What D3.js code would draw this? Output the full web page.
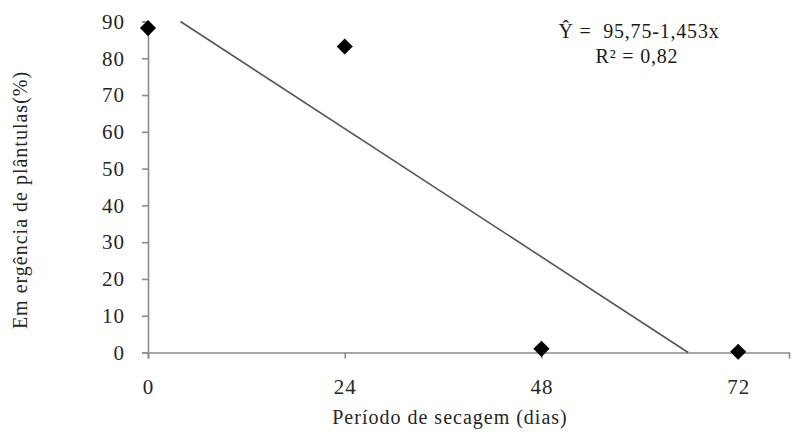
<!DOCTYPE html>
<html><head><meta charset="utf-8">
<script src="https://cdn.jsdelivr.net/npm/d3@7"></script>
<style>body{margin:0;background:#fff}svg{display:block}
svg text{font-family:"Liberation Serif","Times New Roman","DejaVu Serif",serif;}</style>
</head><body>
<script>
const xValues = [0, 24, 48, 72];
const yValues = [88.2, 83.2, 1.0, 0.2];
const xTicks = [0, 24, 48, 72];
const yTicks = [0, 10, 20, 30, 40, 50, 60, 70, 80, 90];
const regIntercept = 95.75;
const regSlope = -1.453;
const eqLine1 = "Ŷ =  95,75-1,453x";
const eqLine2 = "R² = 0,82";
const xTitle = "Período de secagem (dias)";
const yTitle = "Em ergência de plântulas(%)";

const W = 794, H = 432;
const svg = d3.select("body").append("svg").attr("width", W).attr("height", H);
const x = d3.scaleLinear().domain([0, 78.2]).range([148, 789]);
const y = d3.scaleLinear().domain([0, 90]).range([352.5, 21.5]);
const axisColor = "#8c8c8c";
const textColor = "#262626";

// x axis
const gx = svg.append("g").attr("transform", `translate(0,${y(0)})`)
  .call(d3.axisBottom(x).tickValues(xTicks).tickSize(6).tickPadding(21).tickFormat(d3.format("d")));
gx.attr("font-family", null);
gx.select(".domain").attr("stroke", axisColor).attr("stroke-width", 1.6);
gx.selectAll(".tick line").attr("stroke", axisColor).attr("stroke-width", 1.6);
gx.selectAll(".tick text").attr("font-size", 21).attr("fill", textColor)
  .attr("letter-spacing", 1);

// y axis
const gy = svg.append("g").attr("transform", `translate(${x(0)},0)`)
  .call(d3.axisLeft(y).tickValues(yTicks).tickSize(6).tickPadding(17).tickFormat(d3.format("d")));
gy.attr("font-family", null);
gy.select(".domain").attr("stroke", axisColor).attr("stroke-width", 1.6);
gy.selectAll(".tick line").attr("stroke", axisColor).attr("stroke-width", 1.6);
gy.selectAll(".tick text").attr("font-size", 21).attr("fill", textColor)
  .attr("letter-spacing", 1);

// regression line, clipped to y domain [0,90]
const xStart = (90 - regIntercept) / regSlope;
const xEnd = (0 - regIntercept) / regSlope;
svg.append("line")
  .attr("x1", x(xStart)).attr("y1", y(regIntercept + regSlope * xStart))
  .attr("x2", x(xEnd)).attr("y2", y(regIntercept + regSlope * xEnd))
  .attr("stroke", "#555").attr("stroke-width", 1.6);

// points
svg.selectAll("path.pt").data(xValues.map((d, i) => [d, yValues[i]])).enter()
  .append("path").attr("class", "pt")
  .attr("d", d3.symbol().type(d3.symbolSquare).size(130))
  .attr("transform", d => `translate(${x(d[0])},${y(d[1])}) rotate(45)`)
  .attr("fill", "#000");

// equation
svg.append("text").attr("x", 639).attr("y", 38).attr("text-anchor", "middle")
  .style("white-space", "pre")
  .attr("font-size", 20).attr("letter-spacing", 0.8).attr("fill", "#1a1a1a").text(eqLine1);
svg.append("text").attr("x", 637).attr("y", 63).attr("text-anchor", "middle")
  .attr("font-size", 20).attr("letter-spacing", 0.8).attr("fill", "#1a1a1a").text(eqLine2);

// axis titles
svg.append("text").attr("x", 450).attr("y", 424).attr("text-anchor", "middle")
  .attr("font-size", 20).attr("letter-spacing", 1).attr("fill", textColor).text(xTitle);
svg.append("text").attr("transform", "translate(27,200) rotate(-90)").attr("text-anchor", "middle")
  .attr("font-size", 20).attr("letter-spacing", 1).attr("fill", textColor).text(yTitle);
</script>
</body></html>
